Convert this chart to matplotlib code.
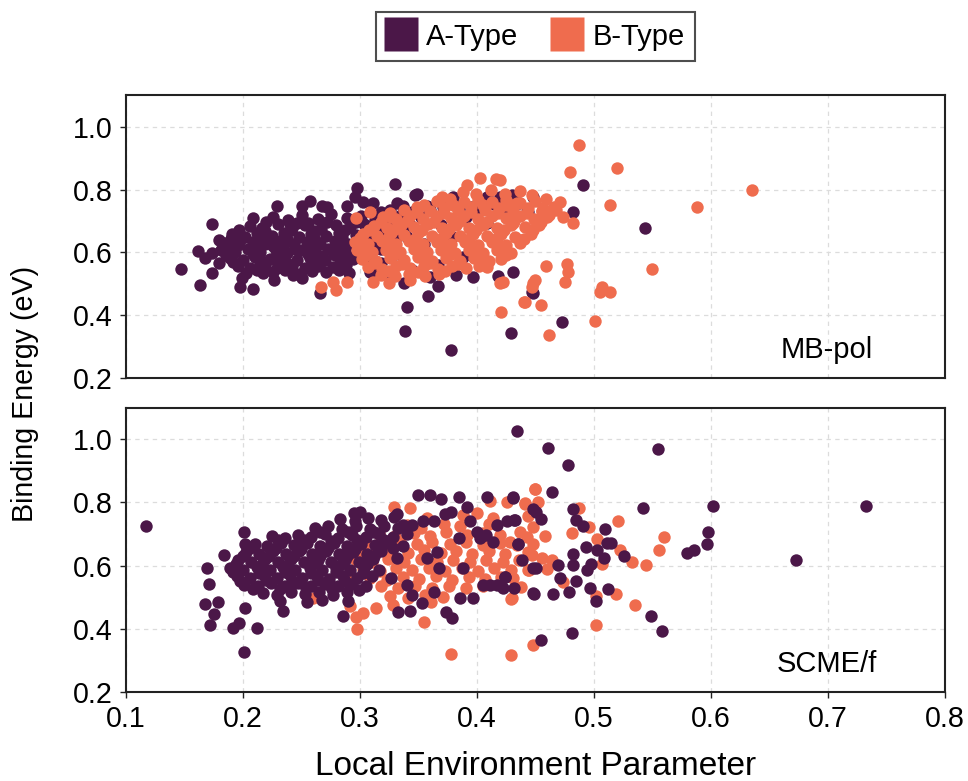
import numpy as np
import matplotlib
matplotlib.use("Agg")
from matplotlib import pyplot as plt
from matplotlib.lines import Line2D

plt.rcParams['font.family'] = ['Liberation Sans', 'DejaVu Sans']

A_COLOR = "#4b1748"
B_COLOR = "#ef6c4e"

# ---- MB-pol panel, A-Type (x = local environment parameter, y = binding energy in eV)
mbpol_a = [
    (0.226,0.712),(0.239,0.703),(0.251,0.718),(0.264,0.707),(0.275,0.721),(0.289,0.709),(0.301,0.716),(0.313,0.704),
    (0.206,0.684),(0.216,0.676),(0.230,0.689),(0.242,0.679),(0.253,0.686),(0.267,0.675),(0.280,0.688),(0.292,0.681),(0.304,0.690),(0.317,0.678),
    (0.191,0.657),(0.202,0.650),(0.212,0.661),(0.225,0.653),(0.235,0.662),(0.248,0.649),(0.258,0.659),(0.271,0.652),(0.282,0.663),(0.297,0.654),(0.309,0.661),(0.321,0.650),
    (0.185,0.631),(0.196,0.624),(0.209,0.634),(0.219,0.627),(0.232,0.636),(0.244,0.625),(0.255,0.633),(0.266,0.626),(0.279,0.637),(0.290,0.628),(0.303,0.634),(0.314,0.624),
    (0.181,0.606),(0.193,0.601),(0.204,0.610),(0.215,0.600),(0.228,0.607),(0.238,0.598),(0.251,0.609),(0.262,0.601),(0.273,0.610),(0.287,0.603),(0.299,0.596),
    (0.189,0.581),(0.200,0.576),(0.210,0.585),(0.223,0.578),(0.233,0.586),(0.246,0.575),(0.257,0.583),(0.270,0.577),(0.282,0.586),(0.294,0.579),
    (0.196,0.556),(0.206,0.551),(0.219,0.559),(0.229,0.550),(0.242,0.558),(0.253,0.549),(0.264,0.556),(0.277,0.552),(0.288,0.561),
    (0.203,0.533),(0.226,0.536),(0.248,0.531),(0.271,0.538),
    (0.220,0.640),(0.245,0.612),(0.262,0.640),(0.232,0.568),(0.278,0.598),(0.214,0.592),(0.256,0.694),(0.285,0.648),
    (0.198,0.640),(0.240,0.690),(0.268,0.588),(0.226,0.620),
    (0.220,0.697),(0.246,0.694),(0.272,0.698),(0.297,0.696),
    (0.197,0.670),(0.219,0.668),(0.241,0.671),(0.262,0.667),(0.287,0.672),(0.311,0.669),
    (0.190,0.643),(0.214,0.645),(0.238,0.642),(0.260,0.646),(0.284,0.643),(0.308,0.646),
    (0.188,0.617),(0.210,0.620),(0.234,0.617),(0.257,0.620),(0.281,0.617),(0.306,0.615),
    (0.186,0.593),(0.209,0.596),(0.231,0.592),(0.256,0.596),(0.279,0.592),(0.302,0.590),
    (0.192,0.568),(0.215,0.570),(0.238,0.566),(0.261,0.570),(0.284,0.568),
    (0.212,0.543),(0.236,0.545),(0.259,0.541),(0.282,0.545),
    (0.147,0.546),(0.163,0.495),(0.174,0.689),(0.198,0.489),(0.209,0.483),(0.298,0.806),(0.330,0.816),(0.340,0.425),
    (0.339,0.349),(0.378,0.289),(0.429,0.343),(0.358,0.461),(0.367,0.492),(0.382,0.527),(0.397,0.521),(0.418,0.524),
    (0.431,0.537),(0.448,0.470),(0.266,0.470),(0.338,0.502),(0.355,0.625),(0.409,0.695),(0.443,0.727),(0.448,0.775),
    (0.430,0.784),(0.420,0.775),(0.380,0.775),(0.347,0.781),(0.388,0.584),(0.367,0.559),(0.309,0.537),(0.291,0.533),
    (0.251,0.517),(0.227,0.511),(0.491,0.813),(0.544,0.676),(0.482,0.727),(0.447,0.473),(0.473,0.378),(0.444,0.727),
    (0.180,0.638),(0.183,0.620),(0.191,0.648),(0.209,0.708),(0.229,0.749),(0.251,0.746),(0.257,0.765),(0.268,0.746),
    (0.272,0.743),(0.289,0.746),(0.296,0.775),(0.303,0.759),(0.311,0.756),(0.332,0.756),(0.337,0.749),(0.349,0.787),
    (0.357,0.749),(0.371,0.743),(0.379,0.765),(0.403,0.756),(0.409,0.775),(0.174,0.533),(0.162,0.603),(0.168,0.581),
    (0.174,0.597),(0.180,0.565),(0.199,0.517),(0.217,0.533),(0.243,0.527),(0.266,0.565),(0.291,0.584),(0.285,0.559),
    (0.334,0.670),(0.343,0.686),(0.366,0.711),(0.369,0.686),(0.391,0.711),(0.379,0.648),
    (0.318,0.728),(0.326,0.735),(0.322,0.700),(0.335,0.720),(0.345,0.730),(0.352,0.712),(0.360,0.735),(0.312,0.690),
    (0.327,0.690),(0.340,0.650),(0.315,0.640),(0.325,0.625),(0.385,0.735),(0.395,0.745),(0.415,0.755),(0.425,0.740),
    (0.436,0.758),(0.398,0.725),(0.312,0.670),(0.322,0.660),(0.330,0.640),(0.318,0.610),(0.330,0.595),(0.305,0.575),
    (0.318,0.565),(0.312,0.545),(0.325,0.530),(0.345,0.545),(0.360,0.520),
]

# ---- MB-pol panel, B-Type
mbpol_b = [
    (0.388,0.792),(0.399,0.785),(0.412,0.797),(0.424,0.786),(0.437,0.794),(0.447,0.781),
    (0.366,0.762),(0.377,0.770),(0.389,0.760),(0.401,0.768),(0.413,0.759),(0.425,0.767),(0.437,0.758),(0.450,0.764),
    (0.338,0.736),(0.349,0.744),(0.360,0.733),(0.372,0.742),(0.384,0.735),(0.395,0.744),(0.407,0.734),(0.419,0.741),(0.431,0.732),(0.444,0.740),(0.456,0.731),
    (0.320,0.712),(0.331,0.706),(0.343,0.716),(0.354,0.707),(0.366,0.717),(0.378,0.708),(0.389,0.716),(0.401,0.706),(0.413,0.715),(0.425,0.708),(0.437,0.716),(0.449,0.706),(0.460,0.713),
    (0.312,0.684),(0.323,0.678),(0.335,0.688),(0.346,0.680),(0.358,0.689),(0.370,0.679),(0.382,0.686),(0.393,0.677),(0.405,0.687),(0.417,0.679),(0.429,0.688),(0.441,0.680),(0.453,0.686),
    (0.303,0.657),(0.315,0.652),(0.327,0.662),(0.338,0.654),(0.350,0.663),(0.362,0.653),(0.374,0.661),(0.386,0.652),(0.397,0.660),(0.409,0.651),(0.421,0.659),(0.433,0.650),(0.446,0.657),
    (0.296,0.632),(0.307,0.626),(0.319,0.635),(0.331,0.627),(0.342,0.636),(0.354,0.626),(0.366,0.634),(0.378,0.625),(0.390,0.633),(0.401,0.624),(0.413,0.632),(0.425,0.623),(0.437,0.630),
    (0.298,0.606),(0.310,0.600),(0.322,0.609),(0.334,0.601),(0.346,0.610),(0.357,0.600),(0.369,0.608),(0.381,0.599),(0.393,0.607),(0.405,0.598),(0.417,0.606),(0.429,0.598),
    (0.302,0.580),(0.314,0.574),(0.326,0.583),(0.338,0.575),(0.350,0.584),(0.362,0.574),(0.374,0.582),(0.386,0.573),(0.398,0.581),(0.410,0.574),(0.421,0.580),
    (0.307,0.553),(0.319,0.548),(0.331,0.557),(0.343,0.549),(0.355,0.557),(0.367,0.548),(0.379,0.555),(0.391,0.550),(0.402,0.557),
    (0.318,0.528),(0.330,0.524),(0.342,0.531),(0.356,0.525),(0.368,0.532),
    (0.355,0.752),(0.380,0.752),(0.405,0.750),(0.430,0.751),
    (0.326,0.725),(0.349,0.728),(0.372,0.725),(0.395,0.728),(0.418,0.726),(0.443,0.724),
    (0.318,0.698),(0.340,0.700),(0.363,0.697),(0.386,0.701),(0.409,0.698),(0.432,0.700),(0.455,0.698),
    (0.308,0.671),(0.330,0.673),(0.353,0.670),(0.376,0.673),(0.399,0.670),(0.423,0.672),(0.447,0.670),
    (0.300,0.645),(0.324,0.646),(0.347,0.643),(0.370,0.646),(0.393,0.643),(0.417,0.645),(0.440,0.642),
    (0.302,0.619),(0.326,0.617),(0.350,0.620),(0.373,0.617),(0.396,0.619),(0.420,0.616),
    (0.305,0.592),(0.330,0.594),(0.354,0.591),(0.378,0.594),(0.402,0.591),(0.425,0.590),
    (0.312,0.566),(0.336,0.563),(0.360,0.566),(0.384,0.563),(0.408,0.565),
    (0.325,0.540),(0.350,0.538),(0.373,0.541),
    (0.403,0.838),(0.416,0.832),(0.392,0.813),(0.421,0.410),(0.440,0.441),(0.409,0.552),(0.422,0.505),(0.448,0.502),
    (0.267,0.489),(0.277,0.505),(0.280,0.479),(0.289,0.505),(0.311,0.505),(0.325,0.502),(0.343,0.511),(0.309,0.727),
    (0.297,0.708),(0.327,0.711),(0.370,0.775),(0.487,0.943),(0.520,0.867),(0.480,0.857),(0.635,0.797),(0.588,0.743),
    (0.514,0.752),(0.471,0.759),(0.459,0.771),(0.474,0.711),(0.482,0.695),(0.550,0.546),(0.459,0.556),(0.477,0.562),
    (0.478,0.537),(0.475,0.505),(0.450,0.511),(0.447,0.489),(0.441,0.441),(0.455,0.432),(0.507,0.489),(0.505,0.473),
    (0.514,0.473),(0.501,0.381),(0.462,0.337),(0.420,0.502),(0.431,0.692),(0.437,0.638),(0.448,0.670),(0.451,0.702),
    (0.456,0.733),(0.457,0.740),(0.434,0.756),(0.425,0.750),(0.420,0.829),(0.462,0.720),(0.466,0.745),(0.468,0.735),
]

# ---- SCME/f panel, A-Type
scme_a = [
    (0.283,0.748),(0.296,0.741),(0.307,0.752),(0.318,0.745),(0.329,0.755),
    (0.262,0.718),(0.273,0.724),(0.285,0.716),(0.297,0.725),(0.309,0.717),(0.321,0.727),(0.333,0.719),(0.345,0.728),
    (0.225,0.694),(0.236,0.688),(0.247,0.698),(0.258,0.690),(0.270,0.699),(0.281,0.689),(0.293,0.697),(0.305,0.690),(0.316,0.699),(0.328,0.691),(0.340,0.700),
    (0.210,0.668),(0.221,0.662),(0.233,0.672),(0.244,0.664),(0.255,0.673),(0.266,0.663),(0.278,0.671),(0.289,0.662),(0.301,0.670),(0.313,0.664),(0.325,0.672),(0.337,0.663),
    (0.203,0.642),(0.214,0.637),(0.226,0.646),(0.237,0.638),(0.248,0.647),(0.259,0.637),(0.271,0.645),(0.282,0.636),(0.294,0.644),(0.306,0.637),(0.318,0.646),
    (0.196,0.617),(0.207,0.611),(0.219,0.620),(0.230,0.612),(0.241,0.621),(0.252,0.611),(0.264,0.619),(0.275,0.610),(0.287,0.618),(0.299,0.611),(0.311,0.620),
    (0.189,0.592),(0.200,0.586),(0.212,0.595),(0.223,0.587),(0.234,0.596),(0.245,0.586),(0.257,0.594),(0.268,0.585),(0.280,0.593),(0.292,0.586),(0.304,0.594),(0.316,0.587),
    (0.195,0.566),(0.206,0.560),(0.218,0.569),(0.229,0.561),(0.240,0.570),(0.251,0.560),(0.263,0.568),(0.274,0.559),(0.286,0.567),(0.298,0.560),(0.310,0.568),
    (0.201,0.540),(0.213,0.535),(0.224,0.544),(0.236,0.536),(0.247,0.545),(0.258,0.535),(0.270,0.543),(0.281,0.534),(0.293,0.542),(0.305,0.536),
    (0.217,0.513),(0.229,0.508),(0.241,0.517),(0.253,0.509),(0.265,0.516),(0.277,0.508),(0.289,0.515),
    (0.232,0.489),(0.255,0.486),(0.268,0.492),(0.290,0.487),
    (0.266,0.706),(0.290,0.708),(0.312,0.706),
    (0.230,0.680),(0.252,0.682),(0.275,0.679),(0.298,0.682),(0.321,0.680),
    (0.206,0.655),(0.228,0.657),(0.250,0.654),(0.273,0.657),(0.296,0.654),(0.318,0.656),
    (0.200,0.630),(0.222,0.632),(0.244,0.629),(0.266,0.632),(0.289,0.629),(0.312,0.631),
    (0.194,0.604),(0.216,0.606),(0.238,0.603),(0.260,0.606),(0.283,0.603),(0.306,0.605),
    (0.192,0.579),(0.214,0.577),(0.236,0.580),(0.258,0.577),(0.280,0.580),(0.303,0.577),
    (0.198,0.552),(0.220,0.554),(0.242,0.551),(0.264,0.554),(0.287,0.551),
    (0.209,0.527),(0.232,0.525),(0.254,0.528),(0.276,0.525),(0.299,0.524),
    (0.117,0.724),(0.434,1.025),(0.201,0.327),(0.169,0.594),(0.171,0.543),(0.168,0.479),(0.175,0.448),(0.172,0.413),
    (0.179,0.486),(0.184,0.635),(0.192,0.403),(0.197,0.419),(0.212,0.403),(0.202,0.467),(0.234,0.457),(0.201,0.705),
    (0.202,0.667),(0.286,0.441),(0.333,0.454),(0.343,0.457),(0.379,0.435),(0.374,0.454),(0.350,0.825),(0.360,0.825),
    (0.369,0.810),(0.385,0.816),(0.409,0.816),(0.431,0.813),(0.300,0.771),(0.295,0.765),(0.392,0.784),(0.448,0.514),
    (0.455,0.365),(0.461,0.971),(0.555,0.968),(0.478,0.917),(0.464,0.832),(0.602,0.790),(0.733,0.790),(0.542,0.781),
    (0.598,0.708),(0.597,0.667),(0.586,0.651),(0.580,0.641),(0.673,0.619),(0.549,0.441),(0.558,0.394),(0.481,0.387),
    (0.482,0.778),(0.485,0.746),(0.491,0.724),(0.510,0.717),(0.493,0.660),(0.503,0.648),(0.511,0.673),(0.515,0.673),
    (0.509,0.625),(0.526,0.629),(0.482,0.638),(0.482,0.603),(0.498,0.606),(0.494,0.587),(0.485,0.552),(0.497,0.530),
    (0.512,0.527),(0.502,0.489),(0.479,0.517),(0.465,0.511),(0.449,0.511),(0.451,0.594),(0.469,0.603),(0.471,0.562),
    (0.455,0.749),(0.451,0.771),(0.431,0.816),(0.433,0.746),(0.435,0.667),(0.432,0.530),(0.424,0.565),
    (0.332,0.762),(0.337,0.730),(0.328,0.657),(0.332,0.625),(0.327,0.562),(0.340,0.540),(0.345,0.508),(0.353,0.483),
    (0.354,0.740),(0.363,0.740),(0.373,0.762),(0.378,0.771),(0.394,0.740),(0.400,0.708),(0.408,0.698),(0.417,0.730),
    (0.426,0.740),(0.432,0.746),(0.435,0.667),(0.439,0.619),(0.357,0.625),(0.366,0.644),(0.368,0.594),(0.388,0.594),
    (0.385,0.689),(0.403,0.689),(0.414,0.676),(0.405,0.540),(0.411,0.540),(0.417,0.540),(0.424,0.565),(0.422,0.530),
    (0.397,0.498),(0.386,0.498),(0.363,0.517),(0.448,0.594),(0.448,0.778),
]

# ---- SCME/f panel, B-Type
scme_b = [
    (0.329,0.784),(0.343,0.781),(0.411,0.803),(0.426,0.800),(0.441,0.794),(0.450,0.844),
    (0.357,0.752),(0.414,0.752),(0.444,0.756),(0.400,0.765),(0.388,0.760),
    (0.340,0.728),(0.352,0.720),(0.372,0.731),(0.386,0.725),(0.410,0.731),(0.437,0.708),(0.448,0.722),
    (0.316,0.700),(0.330,0.694),(0.346,0.703),(0.360,0.695),(0.374,0.705),(0.392,0.698),(0.405,0.704),(0.420,0.696),(0.428,0.676),(0.443,0.690),
    (0.305,0.672),(0.320,0.665),(0.334,0.675),(0.349,0.667),(0.362,0.676),(0.377,0.668),(0.391,0.674),(0.405,0.666),(0.420,0.672),(0.434,0.664),(0.448,0.670),
    (0.300,0.645),(0.313,0.638),(0.327,0.648),(0.341,0.640),(0.355,0.649),(0.369,0.639),(0.382,0.647),(0.396,0.638),(0.410,0.646),(0.424,0.637),(0.444,0.644),
    (0.297,0.617),(0.310,0.611),(0.324,0.620),(0.338,0.612),(0.352,0.621),(0.366,0.611),(0.380,0.619),(0.394,0.610),(0.408,0.618),(0.422,0.610),(0.436,0.617),
    (0.303,0.590),(0.317,0.584),(0.331,0.593),(0.345,0.585),(0.359,0.594),(0.373,0.584),(0.387,0.592),(0.401,0.583),(0.415,0.591),(0.429,0.585),(0.444,0.587),
    (0.309,0.562),(0.323,0.556),(0.337,0.565),(0.351,0.557),(0.365,0.566),(0.379,0.556),(0.393,0.564),(0.407,0.557),(0.421,0.563),(0.438,0.533),
    (0.318,0.534),(0.333,0.528),(0.347,0.537),(0.362,0.529),(0.376,0.536),(0.391,0.528),(0.405,0.535),
    (0.326,0.505),(0.341,0.499),(0.356,0.507),(0.371,0.500),(0.429,0.495),
    (0.378,0.321),(0.429,0.317),(0.448,0.349),(0.298,0.400),(0.355,0.422),(0.297,0.438),(0.303,0.451),(0.314,0.467),
    (0.292,0.473),(0.328,0.476),(0.361,0.486),(0.260,0.498),(0.291,0.571),
    (0.450,0.841),(0.452,0.800),(0.441,0.797),(0.487,0.781),(0.521,0.740),(0.560,0.692),(0.556,0.651),(0.545,0.603),
    (0.533,0.613),(0.522,0.648),(0.503,0.683),(0.496,0.721),(0.481,0.702),(0.458,0.695),(0.507,0.606),(0.519,0.511),
    (0.535,0.476),(0.502,0.505),(0.502,0.413),(0.474,0.549),(0.460,0.590),(0.445,0.587),(0.431,0.562),(0.430,0.498),
    (0.464,0.619),(0.456,0.625),(0.447,0.635),
]

panels = [("MB-pol", mbpol_a, mbpol_b, "AB"), ("SCME/f", scme_a, scme_b, "BA")]

fig = plt.figure(figsize=(4.84, 3.905), dpi=200)
ax_top = fig.add_axes([0.130, 0.516, 0.846, 0.362])
ax_bot = fig.add_axes([0.130, 0.114, 0.846, 0.364])

for ax, (name, a_pts, b_pts, order) in zip([ax_top, ax_bot], panels):
    sets = {"A": (np.array(a_pts), A_COLOR), "B": (np.array(b_pts), B_COLOR)}
    for i, key in enumerate(order):
        pts, col = sets[key]
        ax.scatter(pts[:, 0], pts[:, 1], s=20, c=col, linewidths=0, zorder=2 + i)

    ax.set_xlim(0.1, 0.8)
    ax.set_ylim(0.2, 1.1)
    ax.set_yticks([0.2, 0.4, 0.6, 0.8, 1.0])
    ax.set_xticks(np.arange(0.1, 0.81, 0.1))
    ax.grid(True, ls=(0, (3.5, 3.5)), lw=0.45, color="#dcdcdc", zorder=0)
    for sp in ax.spines.values():
        sp.set_linewidth(0.75)
        sp.set_color("#222222")
    ax.tick_params(direction="out", length=2.2, width=0.5, labelsize=10.3,
                   color="#222222", pad=2.5)
    ax.text(0.856, 0.07, name, transform=ax.transAxes, ha="center",
            va="baseline", fontsize=10.5)

ax_top.tick_params(axis="x", bottom=False, labelbottom=False)
ax_bot.set_xticklabels(["0.1", "0.2", "0.3", "0.4", "0.5", "0.6", "0.7", "0.8"])

fig.text(0.553, 0.019, "Local Environment Parameter", ha="center", va="center", fontsize=12)
fig.text(0.026, 0.496, "Binding Energy (eV)", ha="center", va="center",
         rotation=90, fontsize=10.3)

handles = [Line2D([], [], ls="none", marker="s", ms=12, mfc=A_COLOR, mec="none"),
           Line2D([], [], ls="none", marker="s", ms=12, mfc=B_COLOR, mec="none")]
leg = fig.legend(handles, ["A-Type", "B-Type"], loc="center", ncol=2,
                 bbox_to_anchor=(0.553, 0.953), fontsize=10.5, frameon=True,
                 fancybox=False, edgecolor="#222222", handlelength=1.0,
                 handletextpad=0.35, columnspacing=1.2, borderpad=0.35)
leg.get_frame().set_linewidth(0.75)

fig.savefig("out.png", dpi=200)
